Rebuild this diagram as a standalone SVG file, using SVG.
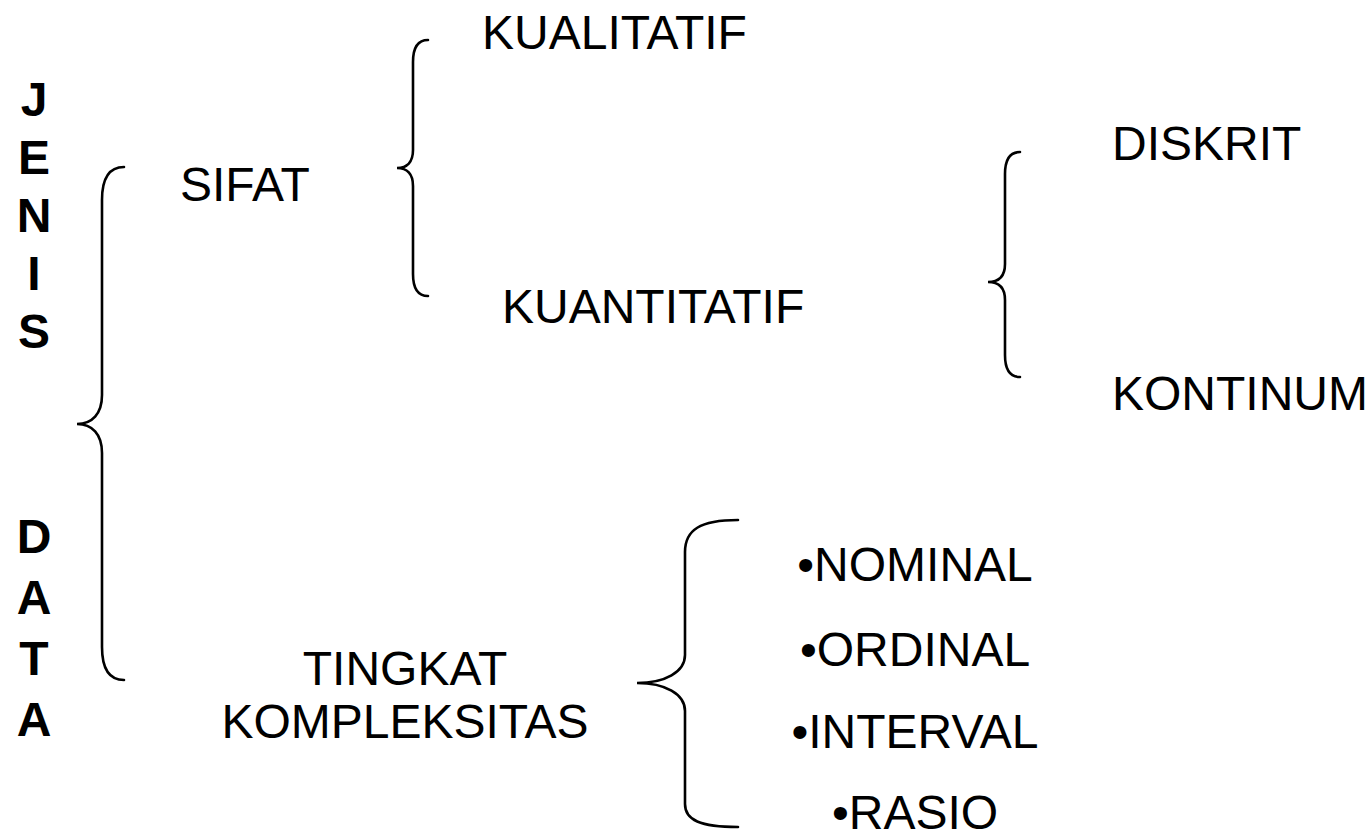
<svg xmlns="http://www.w3.org/2000/svg" width="1371" height="840" viewBox="0 0 1371 840">
<style>
.t{font-family:"Liberation Sans",Arial,sans-serif;font-size:48px;fill:#000}
.b{font-family:"Liberation Sans",Arial,sans-serif;font-size:48px;font-weight:bold;fill:#000}
.br{fill:none;stroke:#000;stroke-width:2.6;stroke-linecap:round}
</style>
<rect width="1371" height="840" fill="#fff"/>
<g id="title">
<text class="b" x="34" y="116" text-anchor="middle">J</text>
<text class="b" x="34" y="174" text-anchor="middle">E</text>
<text class="b" x="34" y="232" text-anchor="middle">N</text>
<text class="b" x="34" y="290" text-anchor="middle">I</text>
<text class="b" x="34" y="348" text-anchor="middle">S</text>
<text class="b" x="34" y="553" text-anchor="middle">D</text>
<text class="b" x="34" y="614" text-anchor="middle">A</text>
<text class="b" x="34" y="675" text-anchor="middle">T</text>
<text class="b" x="34" y="736" text-anchor="middle">A</text>
</g>
<g id="connectors">
<path class="br" d="M124,167 C108,167 102,180 102,200 L102,395 C102,414 92,424 77,424 C92,424 102,434 102,453 L102,647 C102,667 108,680 124,680"/>
<path class="br" d="M428,40 C418,40 413,48 413,62 L413,150 C413,162 407,168 397,168 C407,168 413,174 413,186 L413,274 C413,288 418,296 428,296"/>
<path class="br" d="M1020,152 C1010,152 1005,160 1005,174 L1005,264 C1005,276 999,282 988,282 C999,282 1005,288 1005,300 L1005,355 C1005,369 1010,377 1020,377"/>
<path class="br" d="M738,520 C700,520 685,530 685,552 L685,655 C685,672 665,683 637,683 C665,683 685,694 685,711 L685,804 C685,820 700,827 738,827"/>
</g>
<g id="sifat"><text class="t" x="180" y="201">SIFAT</text></g>
<g id="kualitatif"><text class="t" x="482" y="49">KUALITATIF</text></g>
<g id="kuantitatif"><text class="t" x="502" y="323">KUANTITATIF</text></g>
<g id="diskrit"><text class="t" x="1112" y="160">DISKRIT</text></g>
<g id="kontinum"><text class="t" x="1112" y="410">KONTINUM</text></g>
<g id="tingkat"><text class="t" x="405" y="685" text-anchor="middle">TINGKAT</text><text class="t" x="405" y="738" text-anchor="middle">KOMPLEKSITAS</text></g>
<g id="nominal"><text class="t" x="915" y="581" text-anchor="middle">•NOMINAL</text></g>
<g id="ordinal"><text class="t" x="915" y="666" text-anchor="middle">•ORDINAL</text></g>
<g id="interval"><text class="t" x="915" y="748" text-anchor="middle">•INTERVAL</text></g>
<g id="rasio"><text class="t" x="915" y="829" text-anchor="middle">•RASIO</text></g>
</svg>
